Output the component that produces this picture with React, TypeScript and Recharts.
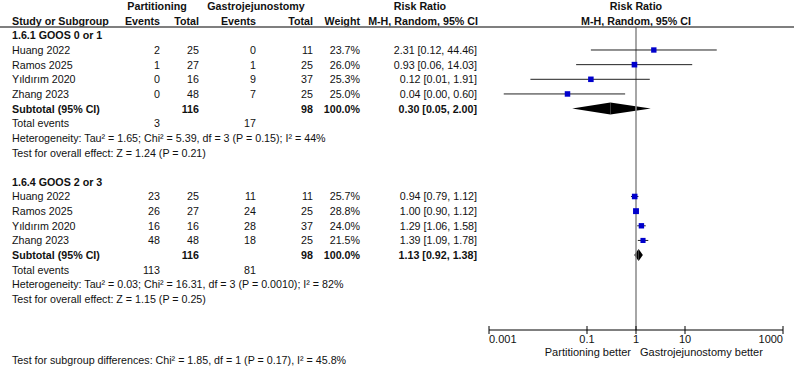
import React from "react";
import { ComposedChart, XAxis, YAxis, Scatter, ReferenceLine, ReferenceArea } from "recharts";

const studies = ["Huang 2022", "Ramos 2025", "Yıldırım 2020", "Zhang 2023"];
const groupNames = ["1.6.1 GOOS 0 or 1", "1.6.4 GOOS 2 or 3"];

// per-study values, one array per subgroup
const events1 = [[2, 1, 0, 0], [23, 26, 16, 48]];
const total1 = [[25, 27, 16, 48], [25, 27, 16, 48]];
const events2 = [[0, 1, 9, 7], [11, 24, 28, 18]];
const total2 = [[11, 25, 37, 25], [11, 25, 37, 25]];
const weights = [[23.7, 26.0, 25.3, 25.0], [25.7, 28.8, 24.0, 21.5]];
const riskRatio = [[2.31, 0.93, 0.12, 0.04], [0.94, 1.0, 1.29, 1.39]];
const ciLow = [[0.12, 0.06, 0.007, 0.002], [0.79, 0.9, 1.06, 1.09]];
const ciHigh = [[44.46, 14.03, 1.91, 0.6], [1.12, 1.12, 1.58, 1.78]];

// subtotals
const subTotal1 = [116, 116];
const subTotal2 = [98, 98];
const subRR = [0.3, 1.13];
const subLow = [0.05, 0.92];
const subHigh = [2.0, 1.38];
const totalEvents1 = [3, 113];
const totalEvents2 = [17, 81];
const heterogeneity = [
  "Heterogeneity: Tau² = 1.65; Chi² = 5.39, df = 3 (P = 0.15); I² = 44%",
  "Heterogeneity: Tau² = 0.03; Chi² = 16.31, df = 3 (P = 0.0010); I² = 82%",
];
const overallEffect = [
  "Test for overall effect: Z = 1.24 (P = 0.21)",
  "Test for overall effect: Z = 1.15 (P = 0.25)",
];
const subgroupTest = "Test for subgroup differences: Chi² = 1.85, df = 1 (P = 0.17), I² = 45.8%";

const xTicks = [0.001, 0.1, 1, 10, 1000];
const leftLabel = "Partitioning better";
const rightLabel = "Gastrojejunostomy better";

const FONT = "Arial, 'Liberation Sans', Helvetica, sans-serif";
const FS = 10.7;
const AXIS_FS = 11;
const INK = "#111";
const HEADER_RULE = -0.57;
const Y_DOMAIN: [number, number] = [-2.413, 20.113];

// column anchors (px)
const C = { name: 12, ev1: 160, tot1: 199, ev2: 256, tot2: 313, weight: 360, rr: 477 };

const f2 = (v: number) => v.toFixed(2);
const ciText = (rr: number, lo: number, hi: number) => `${f2(rr)} [${f2(lo)}, ${f2(hi)}]`;

type Cell = [string, number, "start" | "middle" | "end", boolean?];
const rowCells = new Map<number, Cell[]>();
rowCells.set(-2, [
  ["Partitioning", 157, "middle", true],
  ["Gastrojejunostomy", 256, "middle", true],
  ["Risk Ratio", 420, "middle", true],
  ["Risk Ratio", 636, "middle", true],
]);
rowCells.set(-1, [
  ["Study or Subgroup", C.name, "start", true],
  ["Events", C.ev1, "end", true],
  ["Total", C.tot1, "end", true],
  ["Events", C.ev2, "end", true],
  ["Total", C.tot2, "end", true],
  ["Weight", C.weight, "end", true],
  ["M-H, Random, 95% CI", C.rr + 1, "end", true],
  ["M-H, Random, 95% CI", 636, "middle", true],
]);

const points: { x: number; y: number; w: number }[] = [];
groupNames.forEach((name, g) => {
  const base = g * 10;
  rowCells.set(base, [[name, C.name, "start", true]]);
  studies.forEach((s, i) => {
    const r = base + 1 + i;
    rowCells.set(r, [
      [s, C.name, "start"],
      [String(events1[g][i]), C.ev1, "end"],
      [String(total1[g][i]), C.tot1, "end"],
      [String(events2[g][i]), C.ev2, "end"],
      [String(total2[g][i]), C.tot2, "end"],
      [weights[g][i].toFixed(1) + "%", C.weight, "end"],
      [ciText(riskRatio[g][i], ciLow[g][i], ciHigh[g][i]), C.rr, "end"],
    ]);
    points.push({ x: riskRatio[g][i], y: r, w: weights[g][i] });
  });
  rowCells.set(base + 5, [
    ["Subtotal (95% CI)", C.name, "start", true],
    [String(subTotal1[g]), C.tot1, "end", true],
    [String(subTotal2[g]), C.tot2, "end", true],
    ["100.0%", C.weight, "end", true],
    [ciText(subRR[g], subLow[g], subHigh[g]), C.rr, "end", true],
  ]);
  rowCells.set(base + 6, [
    ["Total events", C.name, "start"],
    [String(totalEvents1[g]), C.ev1, "end"],
    [String(totalEvents2[g]), C.ev2, "end"],
  ]);
  rowCells.set(base + 7, [[heterogeneity[g], C.name, "start"]]);
  rowCells.set(base + 8, [[overallEffect[g], C.name, "start"]]);
});

const rowTicks = [...Array.from(rowCells.keys()), HEADER_RULE];

const RowTick = ({ y, payload }: any) => {
  const v = payload.value;
  if (v === HEADER_RULE) {
    return <line x1={0} x2={794} y1={y} y2={y} stroke="#555" strokeWidth={1.5} />;
  }
  const cells = rowCells.get(v) || [];
  return (
    <g>
      {cells.map(([t, x, anchor, bold], k) => (
        <text key={k} x={x} y={y + 4} textAnchor={anchor} fontFamily={FONT} fontSize={FS}
          fontWeight={bold ? 700 : 400} fill={INK}>{t}</text>
      ))}
    </g>
  );
};

const AxisTick = ({ x, y, payload, index }: any) => {
  const anchor = index === 0 ? "start" : index === xTicks.length - 1 ? "end" : "middle";
  return (
    <g>
      <line x1={x} x2={x} y1={y - 4} y2={y + 4} stroke="#000" />
      <text x={x} y={y + 13} textAnchor={anchor} fontFamily={FONT} fontSize={AXIS_FS} fill={INK}>
        {String(payload.value)}
      </text>
      {payload.value === 1 && (
        <>
          <text x={x - 5} y={y + 26} textAnchor="end" fontFamily={FONT} fontSize={AXIS_FS} fill={INK}>{leftLabel}</text>
          <text x={x + 4} y={y + 26} textAnchor="start" fontFamily={FONT} fontSize={AXIS_FS} fill={INK}>{rightLabel}</text>
        </>
      )}
      {index === 0 && (
        <text x={C.name} y={y + 34} fontFamily={FONT} fontSize={FS} fill={INK}>{subgroupTest}</text>
      )}
    </g>
  );
};

const Square = ({ cx, cy, payload }: any) => {
  const s = 11 * Math.sqrt(payload.w / 100);
  return <rect x={cx - s / 2} y={cy - s / 2} width={s} height={s} fill="#0000cc" />;
};

const LeftHalf = ({ x, y, width, height }: any) => (
  <polygon points={`${x},${y + height / 2} ${x + width},${y} ${x + width},${y + height}`} fill="#000" />
);
const RightHalf = ({ x, y, width, height }: any) => (
  <polygon points={`${x},${y} ${x + width},${y + height / 2} ${x},${y + height}`} fill="#000" />
);

export default function App() {
  return (
    <div style={{ position: "absolute", left: 0, top: 0, background: "#fff" }}>
      <ComposedChart width={794} height={367} margin={{ top: 0, right: 11, bottom: 0, left: 0 }}>
        <XAxis dataKey="x" type="number" scale="log" domain={[0.001, 1000]} allowDataOverflow
          ticks={xTicks} interval={0} height={37} tickSize={0} tickMargin={0}
          axisLine={{ stroke: "#000" }} tickLine={false} tick={<AxisTick />} />
        <YAxis dataKey="y" type="number" domain={Y_DOMAIN} allowDataOverflow reversed
          ticks={rowTicks} interval={0} width={489} tickSize={0} tickMargin={0}
          axisLine={false} tickLine={false} tick={<RowTick />} />
        <ReferenceLine ifOverflow="visible" stroke="#888" strokeWidth={1.5}
          segment={[{ x: 1, y: HEADER_RULE }, { x: 1, y: Y_DOMAIN[1] }]} />
        {groupNames.map((_, g) =>
          studies.map((_s, i) => (
            <ReferenceLine key={`ci-${g}-${i}`} ifOverflow="visible" stroke="#222" strokeWidth={1}
              segment={[{ x: ciLow[g][i], y: g * 10 + 1 + i }, { x: ciHigh[g][i], y: g * 10 + 1 + i }]} />
          ))
        )}
        {groupNames.map((_, g) => (
          <ReferenceArea key={`dl-${g}`} ifOverflow="visible" x1={subLow[g]} x2={subRR[g]}
            y1={g * 10 + 5 - 0.41} y2={g * 10 + 5 + 0.41} shape={<LeftHalf />} />
        ))}
        {groupNames.map((_, g) => (
          <ReferenceArea key={`dr-${g}`} ifOverflow="visible" x1={subRR[g]} x2={subHigh[g]}
            y1={g * 10 + 5 - 0.41} y2={g * 10 + 5 + 0.41} shape={<RightHalf />} />
        ))}
        <Scatter data={points} shape={<Square />} isAnimationActive={false} />
      </ComposedChart>
    </div>
  );
}
